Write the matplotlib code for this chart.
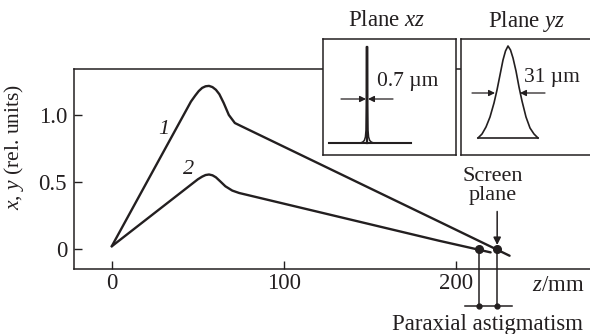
import numpy as np
import matplotlib
matplotlib.use("Agg")
from matplotlib import pyplot as plt

plt.rcParams['font.family'] = ['Liberation Serif', 'DejaVu Serif']
plt.rcParams['mathtext.fontset'] = 'custom'
plt.rcParams['mathtext.rm'] = 'Liberation Serif'
plt.rcParams['mathtext.it'] = 'Liberation Serif:italic'

INK = '#231f20'

# curve 1 and curve 2 (z in mm, relative units)
z1 = [0, 25, 46, 48.5, 50.5, 52.5, 54.5, 56.5, 58.5, 60.5, 62.5, 65, 68, 71.5, 75, 190, 231]
y1 = [0.02, 0.607, 1.1, 1.145, 1.178, 1.202, 1.214, 1.217, 1.208, 1.188, 1.155, 1.09, 1.0, 0.94, 0.918, 0.205, -0.05]
z2 = [0, 25, 47, 50, 52.5, 54.5, 56.5, 58.5, 60.5, 63, 66, 70, 74, 190, 220]
y2 = [0.02, 0.27, 0.49, 0.52, 0.54, 0.552, 0.556, 0.55, 0.535, 0.505, 0.468, 0.436, 0.418, 0.062, -0.025]

# focal points of the two curves
focus_z = [213.4, 223.8]
focus_y = [0, 0]

xticks = [0, 100, 200]
yticks = [0, 0.5, 1.0]
yticklabels = ['0', '0.5', '1.0']

# inset profiles (box units: x across, y up)
spike_x = [37, 39.5, 41.3, 42.4, 43.0, 43.3, 43.4, 44.6, 44.7, 45.0, 45.6, 46.7, 48.5, 51]
spike_y = [12, 12.8, 14.5, 18, 25, 50, 108, 108, 50, 25, 18, 14.5, 12.8, 12]
bell_x = [17, 21, 25, 29, 33, 36, 39, 42, 44.5, 47, 49.5, 52, 55, 58, 61, 65, 69, 73, 77]
bell_y = [17, 21, 28, 38, 52, 65, 80, 95, 104, 109, 105, 97, 84, 68, 54, 38, 27, 21, 17]

fig = plt.figure(figsize=(5.9, 3.34), dpi=100)
ax = fig.add_axes([74 / 590, 65 / 334, 1 - 74 / 590, 200 / 334])

ax.plot(z1, y1, color=INK, lw=1.7, solid_joinstyle='round', solid_capstyle='round')
ax.plot(z2, y2, color=INK, lw=1.7, solid_joinstyle='round', solid_capstyle='round')
ax.text(30, 0.89, '1', style='italic', fontsize=16, color=INK, ha='center', va='center')
ax.text(44.4, 0.59, '2', style='italic', fontsize=16, color=INK, ha='center', va='center')

ax.set_xlim(-21.9, 277.7)
ax.set_ylim(-0.149, 1.343)
ax.set_xticks(xticks)
ax.set_yticks(yticks)
ax.set_yticklabels(yticklabels)
ax.tick_params(direction='in', length=5.5, width=1.0, colors=INK, labelsize=16.5)
ax.tick_params(axis='x', pad=3)
ax.tick_params(axis='y', pad=5)
ax.spines['right'].set_visible(False)
for s in ['left', 'top', 'bottom']:
    ax.spines[s].set_color(INK)
    ax.spines[s].set_linewidth(1.1)

ax.set_ylabel('$x$, $y$ (rel. units)', fontsize=15.5, color=INK)
ax.yaxis.set_label_coords(-0.093, 0.61)
ax.text(259.3, -0.269, '$z$/mm', fontsize=16.5, color=INK, ha='center', va='center')

# focal points, screen plane and astigmatism markers
ax.plot(focus_z, focus_y, 'o', color=INK, ms=5.5, clip_on=False)
for fz in focus_z:
    ax.plot([fz, fz], [0, -0.425], color=INK, lw=1.1, clip_on=False)
ax.plot([205.2, 232.5], [-0.425, -0.425], color=INK, lw=1.1, clip_on=False)
ax.plot(focus_z, [-0.425, -0.425], 'o', color=INK, ms=3.5, clip_on=False)
ax.annotate('', xy=(focus_z[1], 0.03), xytext=(focus_z[1], 0.28),
            arrowprops=dict(arrowstyle='-|>', color=INK, lw=1.1,
                            mutation_scale=11, shrinkA=0, shrinkB=0))
ax.text(221.5, 0.47, 'Screen\nplane', fontsize=16, color=INK, ha='center',
        va='center', linespacing=0.95)
ax.text(218.3, -0.56, 'Paraxial astigmatism', fontsize=16.5, color=INK,
        ha='center', va='center', clip_on=False)

# inset boxes
def box(left, width):
    a = fig.add_axes([left / 590, 179 / 334, width / 590, 116 / 334])
    a.set_xlim(0, width)
    a.set_ylim(0, 116)
    a.set_xticks([])
    a.set_yticks([])
    a.set_facecolor('white')
    for s in a.spines.values():
        s.set_color(INK)
        s.set_linewidth(1.1)
    return a

arr = dict(arrowstyle='-|>', color=INK, lw=0.9, mutation_scale=9, shrinkA=0, shrinkB=0)

b1 = box(323, 133)
b1.plot([6, 88], [12, 12], color=INK, lw=1.5)
b1.plot(spike_x, spike_y, color=INK, lw=1.1)
b1.plot([44, 44], [12, 108], color=INK, lw=1.6)
b1.annotate('', xy=(43, 56), xytext=(18, 56), arrowprops=arr)
b1.annotate('', xy=(45, 56), xytext=(70, 56), arrowprops=arr)
b1.text(54, 74, '0.7 µm', fontsize=15.5, color=INK, ha='left', va='center')
fig.text(387 / 590, 1 - 21 / 334, 'Plane $xz$', fontsize=16.5, color=INK,
         ha='center', va='center')

b2 = box(461, 135)
b2.spines['right'].set_visible(False)
b2.plot(bell_x, bell_y, color=INK, lw=1.2, solid_joinstyle='round')
b2.plot([17, 77], [17, 17], color=INK, lw=1.2)
b2.annotate('', xy=(34, 62), xytext=(11, 62), arrowprops=arr)
b2.annotate('', xy=(59, 62), xytext=(84, 62), arrowprops=arr)
b2.text(63, 78, '31 µm', fontsize=15.5, color=INK, ha='left', va='center')
fig.text(527 / 590, 1 - 21 / 334, 'Plane $yz$', fontsize=16.5, color=INK,
         ha='center', va='center')

plt.savefig('out.png', dpi=100)
